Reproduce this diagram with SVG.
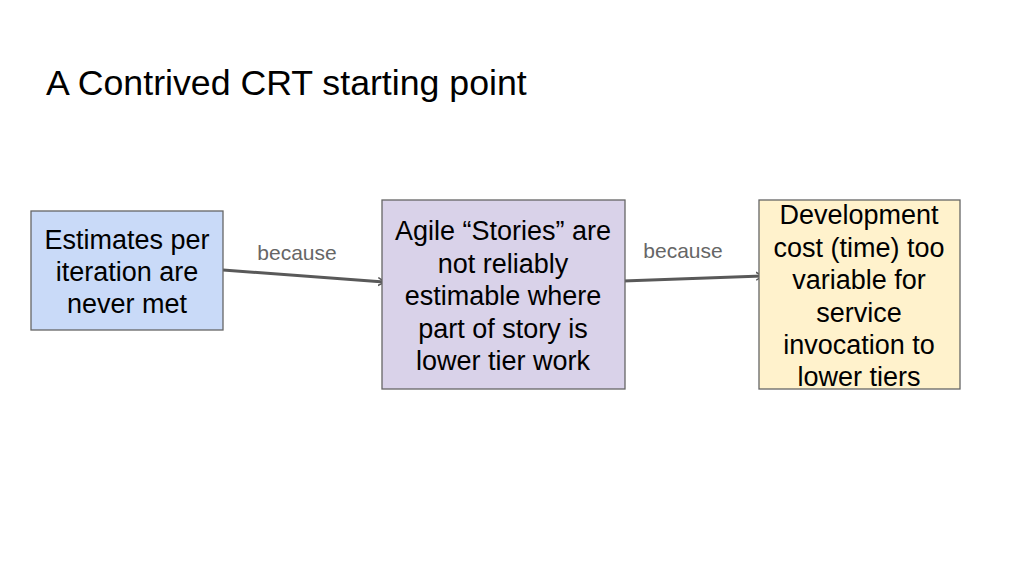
<svg xmlns="http://www.w3.org/2000/svg" width="1024" height="576" viewBox="0 0 1024 576">
<style>
.node rect{stroke:#666;stroke-width:1.3}
.nt{font-family:"Liberation Sans",Arial,sans-serif;font-size:27px;fill:#000;text-anchor:middle}
.lbl{font-family:"Liberation Sans",Arial,sans-serif;font-size:21px;fill:#666;text-anchor:middle}
.title{font-family:"Liberation Sans",Arial,sans-serif;font-size:35.7px;fill:#000}
.conn{stroke:#595959;stroke-width:3;fill:none}
</style>
<defs>
<marker id="ah" markerWidth="10" markerHeight="10" refX="6" refY="5" orient="auto" markerUnits="userSpaceOnUse">
<path d="M0,1 L7,5 L0,9" fill="none" stroke="#595959" stroke-width="1.5"/>
</marker>
</defs>
<rect width="1024" height="576" fill="#fff"/>
<text class="title" x="46" y="95">A Contrived CRT starting point</text>
<g id="connectors">
<line class="conn" x1="223" y1="270" x2="384" y2="282" marker-end="url(#ah)"/>
<line class="conn" x1="623" y1="281" x2="762" y2="276" marker-end="url(#ah)"/>
<text class="lbl" x="297" y="260">because</text>
<text class="lbl" x="683" y="258">because</text>
</g>
<g id="node1" class="node">
<rect x="31" y="211" width="192" height="119" fill="#c9daf8"/>
<text class="nt" x="127" y="249">Estimates per</text>
<text class="nt" x="127" y="281">iteration are</text>
<text class="nt" x="127" y="313">never met</text>
</g>
<g id="node2" class="node">
<rect x="382" y="200" width="243" height="189" fill="#d9d2e9"/>
<text class="nt" x="503" y="240">Agile “Stories” are</text>
<text class="nt" x="503" y="273">not reliably</text>
<text class="nt" x="503" y="305">estimable where</text>
<text class="nt" x="503" y="338">part of story is</text>
<text class="nt" x="503" y="370">lower tier work</text>
</g>
<g id="node3" class="node">
<rect x="759" y="200" width="201" height="189" fill="#fff2cc"/>
<text class="nt" x="859" y="224">Development</text>
<text class="nt" x="859" y="257">cost (time) too</text>
<text class="nt" x="859" y="289">variable for</text>
<text class="nt" x="859" y="322">service</text>
<text class="nt" x="859" y="354">invocation to</text>
<text class="nt" x="859" y="386">lower tiers</text>
</g>
</svg>
